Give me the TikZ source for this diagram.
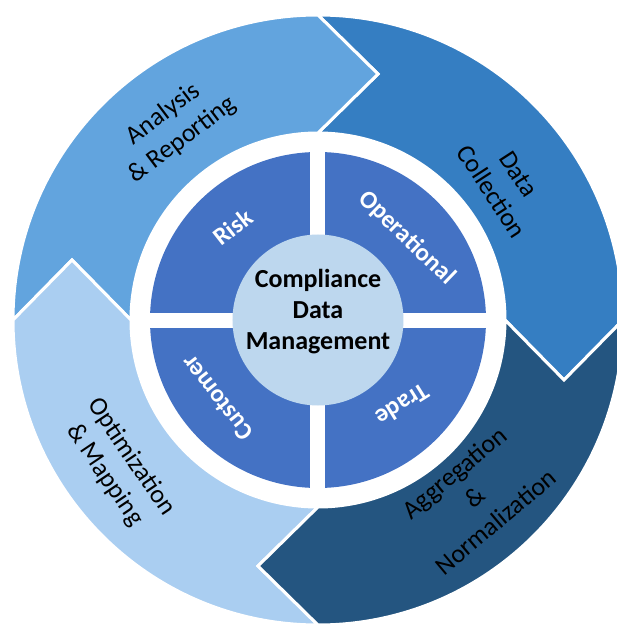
\documentclass[tikz,border=0pt]{standalone}
\usepackage{fontspec}
\setmainfont{Carlito}
\usepackage{tikz}

\definecolor{analysisblue}{HTML}{62A4DE}
\definecolor{collectblue}{HTML}{357EC2}
\definecolor{aggregblue}{HTML}{245580}
\definecolor{optimblue}{HTML}{AACEF1}
\definecolor{quadblue}{HTML}{4472C4}
\definecolor{coreblue}{HTML}{BDD7EE}

\tikzstyle{segment} = [draw=white, line width=3pt, line join=miter]
\tikzstyle{quadlabel} = [text=white, font=\fontsize{25}{30}\selectfont\bfseries]

\begin{document}
\begin{tikzpicture}[
		x=1pt, y=1pt,
		steplabel/.style={
				text=black,
				align=center,
				font=\fontsize{26}{32}\selectfont,
			}
	]

	\useasboundingbox (-318,-307) rectangle (299,320);
	\clip (-318,-307) rectangle (299,320);

	% Data Collection
	\draw[segment, fill=collectblue] (90:305) arc[start angle=90, end angle=0, radius=305]
		-- (246,-60) -- (0:187) arc[start angle=0, end angle=90, radius=187] -- (60,246) -- cycle;

	% Analysis & Reporting
	\draw[segment, fill=analysisblue, rotate=90] (90:305) arc[start angle=90, end angle=0, radius=305]
		-- (246,-60) -- (0:187) arc[start angle=0, end angle=90, radius=187] -- (60,246) -- cycle;

	% Optimization & Mapping
	\draw[segment, fill=optimblue, rotate=180] (90:305) arc[start angle=90, end angle=0, radius=305]
		-- (246,-60) -- (0:187) arc[start angle=0, end angle=90, radius=187] -- (60,246) -- cycle;

	% Aggregation & Normalization
	\draw[segment, fill=aggregblue, rotate=270] (90:305) arc[start angle=90, end angle=0, radius=305]
		-- (246,-60) -- (0:187) arc[start angle=0, end angle=90, radius=187] -- (60,246) -- cycle;

	% inner disc split in four
	\fill[quadblue] (0,0) circle (168);
	\fill[white] (-7.5,-170) rectangle (7.5,170);
	\fill[white] (-170,-7.5) rectangle (170,7.5);
	\fill[coreblue] (0,0) circle (85.5);

	% Quadrant labels
	\node[quadlabel, rotate=38] (risk) at (-85,93) {Risk};
	\node[quadlabel, rotate=-44] (operational) at (89,82) {Operational};
	\node[quadlabel, rotate=212] (trade) at (85,-85) {Trade};
	\node[quadlabel, rotate=128] (customer) at (-101,-78) {Customer};

	% Centre
	\node[align=center, font=\fontsize{26}{31}\selectfont\bfseries] (core) at (0,8)
		{Compliance\\Data\\Management};

	% Outer ring labels
	\node[steplabel, rotate=37] (analysis) at (-145,193) {Analysis\\\& Reporting};
	\node[steplabel, rotate=-57] (collection) at (187,137) {Data\\Collection};
	\node[steplabel, rotate=40] (aggregation) at (157,-177) {Aggregation\\\&\\Normalization};
	\node[steplabel, rotate=-56] (optimization) at (-200,-146) {Optimization\\\& Mapping};
\end{tikzpicture}
\end{document}
